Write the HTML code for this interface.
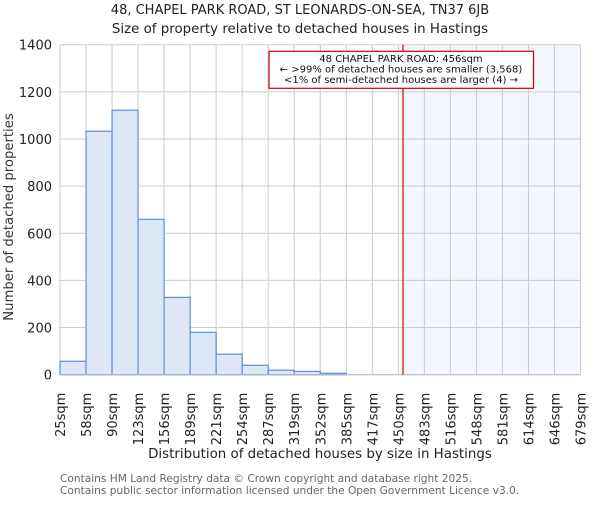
<!DOCTYPE html>
<html><head><meta charset="utf-8"><style>
body{margin:0;background:#fff;}
svg text{font-family:"DejaVu Sans","Liberation Sans",sans-serif;}
</style></head><body>
<svg id="chart" width="600" height="500" viewBox="0 0 600 500" xmlns="http://www.w3.org/2000/svg">
<text x="300" y="14" text-anchor="middle" font-size="13" fill="#222">48, CHAPEL PARK ROAD, ST LEONARDS-ON-SEA, TN37 6JB</text>
<text x="300" y="33" text-anchor="middle" font-size="13.4" fill="#222">Size of property relative to detached houses in Hastings</text>
<g id="grid"></g>
<g id="bars"></g>
<g id="axes"></g>
<text transform="translate(13,217) rotate(-90)" text-anchor="middle" font-size="13.2" fill="#333">Number of detached properties</text>
<text x="320" y="458" text-anchor="middle" font-size="13.4" fill="#222">Distribution of detached houses by size in Hastings</text>
<text x="60" y="482" font-size="10.6" fill="#666">Contains HM Land Registry data © Crown copyright and database right 2025.</text>
<text x="60" y="494" font-size="10.6" fill="#666">Contains public sector information licensed under the Open Government Licence v3.0.</text>
</svg>
<script>
const categories = ["25sqm","58sqm","90sqm","123sqm","156sqm","189sqm","221sqm","254sqm","287sqm","319sqm","352sqm","385sqm","417sqm","450sqm","483sqm","516sqm","548sqm","581sqm","614sqm","646sqm","679sqm"];
const counts = [57,1033,1122,659,328,180,87,40,19,14,6,0,0,0,0,0,0,0,0,0];
const yTicks = [0,200,400,600,800,1000,1200,1400];
const binStart = 25, binWidth = 32.7;
const propertySize = 456;

const NS = "http://www.w3.org/2000/svg";
const L = 60, R = 580.5, T = 44.7, B = 374.7, yMax = 1400;
const n = counts.length;
const bw = (R - L) / n;
const xIdx = i => L + i * bw;
const xVal = v => L + (v - binStart) / binWidth * bw;
const y = v => B - v / yMax * (B - T);
function mk(tag, attrs, parent){const e=document.createElementNS(NS,tag);for(const k in attrs)e.setAttribute(k,attrs[k]);parent.appendChild(e);return e;}
const grid = document.getElementById('grid'), bars = document.getElementById('bars'), axes = document.getElementById('axes');
const px = xVal(propertySize);
let shade = mk('rect',{x:px,y:T,width:R-px,height:B-T,fill:'#f3f6fd'},grid);


yTicks.forEach(t=>{
  let g = mk('line',{x1:L,x2:R,y1:y(t),y2:y(t),stroke:'#cccccc','stroke-width':1},grid);
  
  
  let tx = mk('text',{x:L-8,y:y(t)+5,'text-anchor':'end','font-size':13,fill:'#222'},axes);
  tx.textContent = t;
  
  
});
categories.forEach((c,i)=>{
  let g = mk('line',{x1:xIdx(i),x2:xIdx(i),y1:T,y2:B,stroke:'#cccccc','stroke-width':1},grid);
  
  
  let tx = mk('text',{transform:`translate(${xIdx(i)+5},${B+18}) rotate(-90)`,'text-anchor':'end','font-size':13,fill:'#222'},axes);
  tx.textContent = c;
  
  
});
counts.forEach((v,i)=>{
  if(v<=0) return;
  let r = mk('rect',{x:xIdx(i),y:y(v),width:bw,height:B-y(v),fill:'#dde7f5',stroke:'#5b8fd6','stroke-width':1.2},bars);
  
  
});
let ax = mk('line',{x1:L,x2:R,y1:B,y2:B,stroke:'#bbb','stroke-width':1},axes);


let vl = mk('line',{x1:px,x2:px,y1:T,y2:B,stroke:'#cc0000','stroke-width':1.2},axes);


let box = mk('rect',{x:269,y:51.3,width:264.5,height:37,fill:'#fff',stroke:'#cc0000','stroke-width':1.2},axes);


const lines = ["48 CHAPEL PARK ROAD: 456sqm","← >99% of detached houses are smaller (3,568)","<1% of semi-detached houses are larger (4) →"];
lines.forEach((s,i)=>{
  let t = mk('text',{x:401,y:62+i*10.5,'text-anchor':'middle','font-size':10,fill:'#111'},axes);
  t.textContent = s;
  
  
});
</script>
</body></html>
